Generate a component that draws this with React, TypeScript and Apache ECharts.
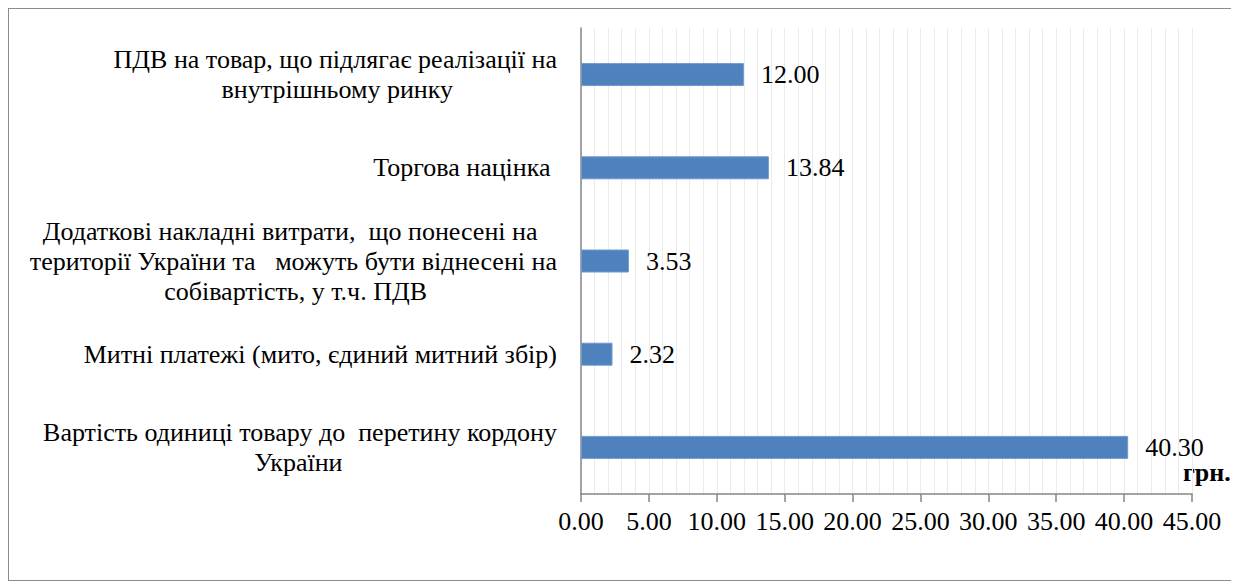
import React, { useEffect, useRef } from "react";
import * as echarts from "echarts";

const categories: string[] = [
  "Вартість одиниці товару до  перетину кордону\nУкраїни",
  "Митні платежі (мито, єдиний митний збір)",
  "Додаткові накладні витрати,  що понесені на \nтериторії України та   можуть бути віднесені на\nсобівартість, у т.ч. ПДВ",
  "Торгова націнка ",
  "ПДВ на товар, що підлягає реалізації на\nвнутрішньому ринку",
];
const values: number[] = [40.3, 2.32, 3.53, 13.84, 12.0];
const labelAnchors: number[] = [0, 0, 0, 0, 0];
const unitLabel = "грн.";

const FONT = "Liberation Serif";
const CAT_FONT = "Times New Roman";
const FS = 26;
const NBSP = "\u00A0";

function centerLines(text: string): string {
  const canvas = document.createElement("canvas");
  const ctx = canvas.getContext("2d");
  const lines = text.split("\n").map((l) => l.replace(/ +$/, (m) => NBSP.repeat(m.length)));
  if (!ctx) return lines.join("\n");
  ctx.font = `${FS}px "${FONT}"`;
  const widths = lines.map((l) => ctx.measureText(l).width);
  const maxW = Math.max(...widths);
  const spW = ctx.measureText(NBSP).width || FS * 0.25;
  return lines
    .map((l, i) => l + NBSP.repeat(Math.max(0, Math.round((maxW - widths[i]) / 2 / spW))))
    .join("\n");
}

export default function App() {
  const ref = useRef<HTMLDivElement>(null);
  useEffect(() => {
    const chart = echarts.init(ref.current!, undefined, { renderer: "svg" });
    chart.setOption({
      animation: false,
      backgroundColor: "#ffffff",
      grid: { left: 572, right: 45, top: 19, bottom: 86, containLabel: false },
      xAxis: {
        type: "value",
        min: 0,
        max: 45,
        interval: 5,
        axisLine: { show: true, lineStyle: { color: "#868686", width: 1.5 } },
        axisTick: { show: true, length: 8, lineStyle: { color: "#868686", width: 1.5 } },
        axisLabel: {
          color: "#000",
          fontSize: FS,
          fontFamily: FONT,
          margin: 14,
          formatter: (v: number) => v.toFixed(2),
        },
        splitLine: { show: true, lineStyle: { color: "#ebebeb", width: 1 } },
        minorTick: { show: false, splitNumber: 5 },
        minorSplitLine: { show: true, lineStyle: { color: "#ebebeb", width: 1 } },
      },
      yAxis: {
        type: "category",
        data: categories,
        axisLine: { show: true, lineStyle: { color: "#868686", width: 1.5 } },
        axisTick: { show: false },
        splitLine: { show: false },
        axisLabel: { show: false },
      },
      series: [
        {
          type: "bar",
          data: values,
          barWidth: 23,
          z: 3,
          itemStyle: { color: "#4f81bd", borderColor: "#6f9bd1", borderWidth: 1 },
          label: {
            show: true,
            position: "right",
            distance: 17,
            color: "#000",
            fontSize: FS,
            fontFamily: FONT,
            formatter: (p: any) => Number(p.value).toFixed(2),
          },
        },
        {
          type: "bar",
          data: labelAnchors,
          barWidth: 23,
          barGap: "-100%",
          silent: true,
          z: 2,
          itemStyle: { color: "rgba(0,0,0,0)", borderWidth: 0 },
          label: {
            show: true,
            position: "left",
            distance: 24,
            align: "right",
            verticalAlign: "middle",
            color: "#000",
            fontSize: FS,
            fontWeight: "normal",
            fontFamily: CAT_FONT,
            lineHeight: 30,
            formatter: (p: any) => centerLines(categories[p.dataIndex]),
          },
        },
      ],
      graphic: [
        {
          type: "text",
          left: 1174,
          top: 450,
          style: {
            text: unitLabel,
            fontSize: FS,
            fontWeight: "bold",
            fontFamily: FONT,
            fill: "#000",
          },
        },
      ],
    });
    return () => chart.dispose();
  }, []);
  return (
    <div
      style={{
        width: 1230,
        height: 573,
        border: "1px solid #8c8c8c",
        boxSizing: "border-box",
      }}
    >
      <div ref={ref} style={{ width: 1228, height: 571 }} />
    </div>
  );
}
